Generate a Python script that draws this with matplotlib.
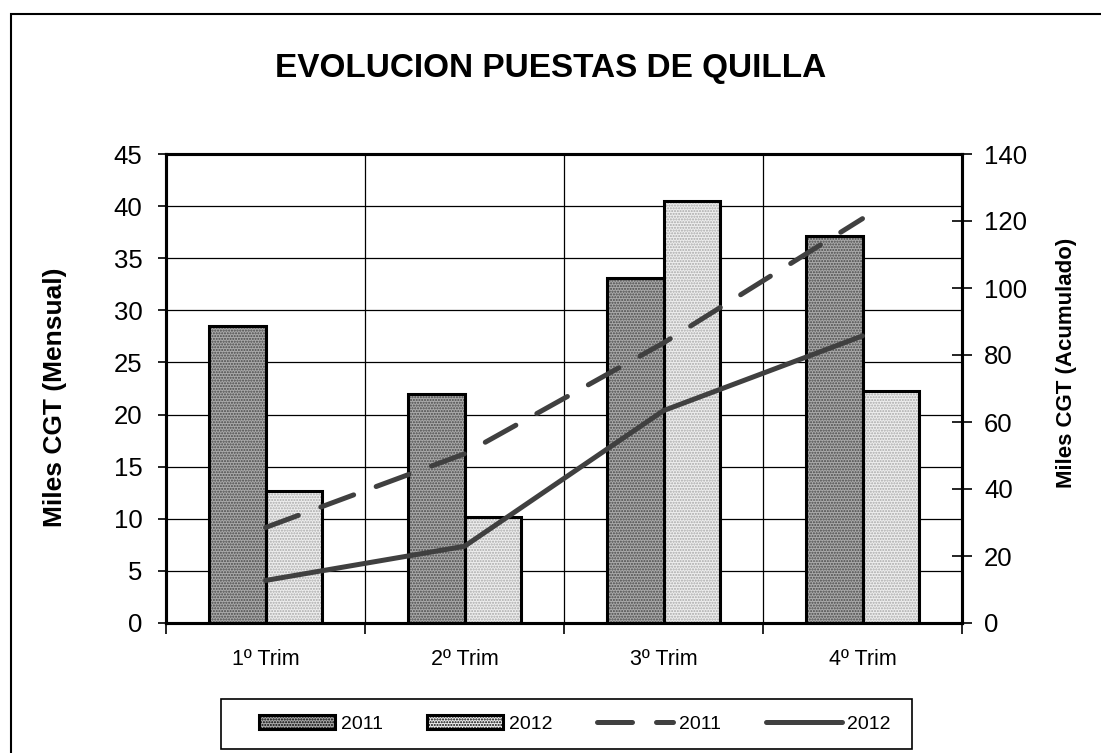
import numpy as np
import matplotlib
matplotlib.use("Agg")
import matplotlib.pyplot as plt
from matplotlib.patches import Patch, Rectangle
from matplotlib.lines import Line2D

plt.rcParams["font.family"] = ["Liberation Sans", "DejaVu Sans"]

# Data
trimestres = ["1º Trim", "2º Trim", "3º Trim", "4º Trim"]
mensual_2011 = [28.5, 22.0, 33.1, 37.1]
mensual_2012 = [12.7, 10.2, 40.5, 22.3]
acumulado_2011 = [28.5, 50.5, 83.6, 120.7]
acumulado_2012 = [12.7, 22.9, 63.4, 85.7]

left_ticks = np.arange(0, 46, 5)
right_ticks = np.arange(0, 141, 20)

W, H = 1101, 753
fig = plt.figure(figsize=(W / 100, H / 100), dpi=100)

# outer chart frame (right/bottom edges fall outside the image)
fig.patches.append(Rectangle((11 / W, -0.1), 1.2, 1.1 - 14 / H,
                             transform=fig.transFigure, fill=False,
                             edgecolor="black", linewidth=1.5))

ax = fig.add_axes([166 / W, 1 - 623 / H, (962 - 166) / W, (623 - 154) / H])
ax2 = ax.twinx()

x = np.arange(len(trimestres))
width = 0.285

# bar fills with dotted texture, then black outlines
plt.rcParams["hatch.linewidth"] = 1.0
ax.bar(x - width / 2, mensual_2011, width, color="#aaaaaa", hatch="......",
       edgecolor="#484848", linewidth=0, zorder=2)
ax.bar(x + width / 2, mensual_2012, width, color="#eeeeee", hatch="......",
       edgecolor="#a8a8a8", linewidth=0, zorder=2)
ax.bar(x - width / 2, mensual_2011, width, fill=False, edgecolor="black", linewidth=2.2, zorder=3)
ax.bar(x + width / 2, mensual_2012, width, fill=False, edgecolor="black", linewidth=2.2, zorder=3)

ax.set_xlim(-0.5, len(trimestres) - 0.5)
ax.set_ylim(0, 45)
ax.set_yticks(left_ticks)
ax.tick_params(axis="y", labelsize=18.5, direction="out", length=6, width=1.2, pad=11)

# category boundaries as major ticks, labels on minor ticks
ax.set_xticks(np.arange(len(trimestres) + 1) - 0.5)
ax.set_xticklabels([])
ax.set_xticks(x, minor=True)
ax.set_xticklabels(trimestres, minor=True)
ax.tick_params(axis="x", which="major", direction="out", length=8, width=1.2)
ax.tick_params(axis="x", which="minor", length=0, labelsize=15.5, pad=19)

ax.grid(True, which="major", color="black", linewidth=0.9, zorder=0)
ax.set_axisbelow(True)

for sp in ax.spines.values():
    sp.set_linewidth(2.2)

ax.set_ylabel("Miles CGT (Mensual)", fontsize=19, fontweight="bold")
ax.yaxis.set_label_coords((67 - 166) / (962 - 166), (623 - 397) / 469)

# cumulative lines on right axis
ax2.plot(x, acumulado_2011, color="#404040", linewidth=3.6, linestyle=(0, (7, 4.8)),
         dash_capstyle="round", zorder=4)
ax2.plot(x, acumulado_2012, color="#404040", linewidth=3.6, solid_capstyle="round", zorder=4)
ax2.set_ylim(0, 140)
ax2.set_yticks(right_ticks)
ax2.tick_params(axis="y", labelsize=18.5, direction="inout", length=14, width=1.2, pad=9)
for sp in ax2.spines.values():
    sp.set_linewidth(2.2)
ax2.set_ylabel("Miles CGT (Acumulado)", fontsize=16, fontweight="bold")
ax2.yaxis.set_label_coords((1056 - 166) / (962 - 166), (623 - 363) / 469)

fig.suptitle("EVOLUCION PUESTAS DE QUILLA", x=551 / W, y=1 - 68 / H,
             fontsize=24, fontweight="bold", va="center")

# legend box drawn separately, entries placed inside it
fig.patches.append(Rectangle((221 / W, 1 - 749 / H), (912 - 221) / W, 50 / H,
                             transform=fig.transFigure, fill=False,
                             edgecolor="black", linewidth=1.2))
handles = [
    Patch(facecolor="#aaaaaa", hatch="......", edgecolor="black", linewidth=2.2),
    Patch(facecolor="#eeeeee", hatch="......", edgecolor="black", linewidth=2.2),
    Line2D([], [], color="#404040", linewidth=3.6, linestyle=(0, (7, 4.8)), dash_capstyle="round"),
    Line2D([], [], color="#404040", linewidth=3.6, solid_capstyle="round"),
]
labels = ["2011", "2012", "2011", "2012"]
fig.legend(handles, labels, loc="center", bbox_to_anchor=(575 / W, 1 - 724 / H),
           ncol=4, fontsize=14, frameon=False,
           handlelength=3.9, handleheight=0.72, columnspacing=2.3, handletextpad=0.3)

fig.savefig("out.png", dpi=100, facecolor="white")
